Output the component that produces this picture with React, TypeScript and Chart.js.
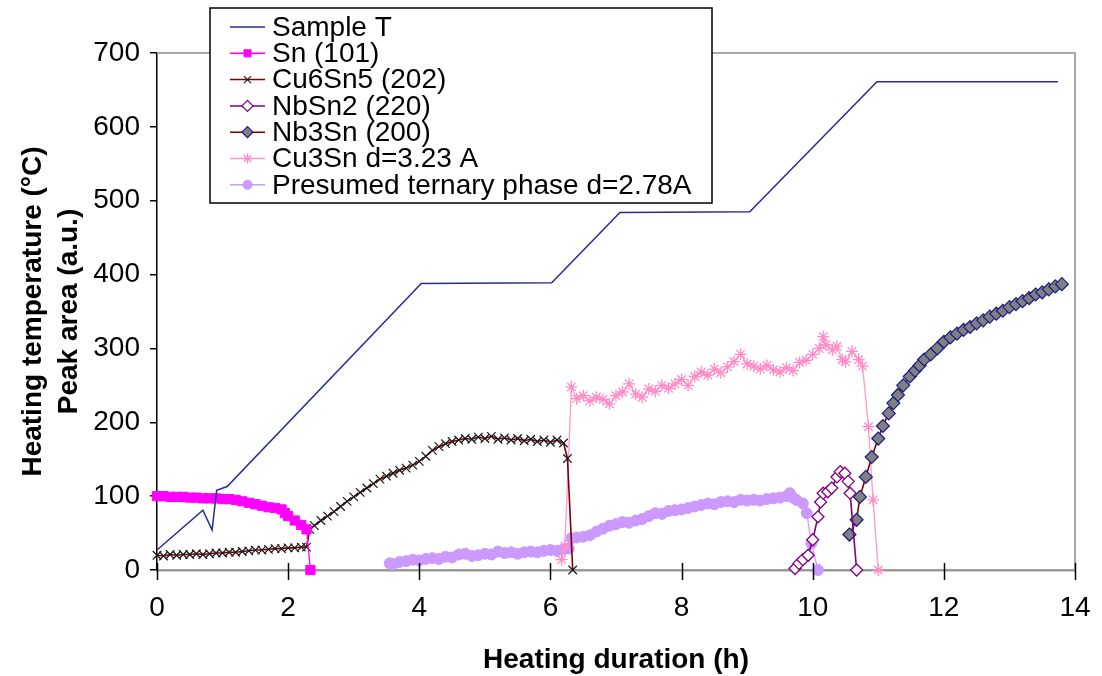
import React, { useEffect, useRef } from 'react';
import { Chart, registerables } from 'chart.js';
import { drawPoint } from 'chart.js/helpers';

Chart.register(...registerables);

// ---------- data (hours, °C / a.u.) ----------
const sampleTTime = [0, 0.7, 0.84, 0.91, 1.07, 4.03, 6.02, 7.06, 9.04, 10.98, 13.74];
const sampleTValue = [27, 81, 54, 108, 113, 388, 389, 484, 485, 661, 661];

const snTime = [0, 0.1, 0.2, 0.3, 0.4, 0.5, 0.6, 0.7, 0.8, 0.9, 1.0, 1.1, 1.2, 1.3, 1.4, 1.5, 1.6, 1.7, 1.8, 1.9, 1.95, 2.0, 2.1, 2.2, 2.28, 2.34];
const snValue = [100, 100, 99, 99, 99, 98, 98, 97, 97, 97, 96, 96, 95, 93, 91, 89, 87, 85, 84, 82, 77, 73, 67, 61, 55, 0];

const cu6sn5Time = [0, 0.1, 0.2, 0.3, 0.4, 0.5, 0.6, 0.7, 0.8, 0.9, 1.0, 1.1, 1.2, 1.3, 1.4, 1.5, 1.6, 1.7, 1.8, 1.9, 2.0, 2.1, 2.2, 2.28, 2.33,
  2.4, 2.5, 2.6, 2.7, 2.8, 2.9, 3.0, 3.1, 3.2, 3.3, 3.4, 3.5, 3.6, 3.7, 3.8, 3.9, 4.0, 4.1, 4.2, 4.3, 4.4, 4.5, 4.6, 4.7, 4.8, 4.9,
  5.0, 5.1, 5.2, 5.3, 5.4, 5.5, 5.6, 5.7, 5.8, 5.9, 6.0, 6.1, 6.2, 6.26, 6.34];
const cu6sn5Value = [20, 19, 21, 20, 21, 21, 22, 21, 22, 23, 23, 24, 24, 25, 26, 27, 27, 28, 29, 29, 30, 30, 31, 31, 55,
  60, 67, 73, 79, 86, 93, 99, 105, 111, 117, 123, 127, 131, 135, 138, 142, 147, 154, 162, 167, 171, 174, 176, 178, 177, 180,
  178, 181, 177, 179, 176, 178, 175, 177, 174, 176, 173, 176, 172, 151, 0];

const nbsn2Time = [9.73, 9.79, 9.85, 9.93, 10.0, 10.08, 10.12, 10.16, 10.23, 10.29, 10.37, 10.42, 10.49, 10.54, 10.57, 10.67];
const nbsn2Value = [2, 9, 14, 20, 41, 72, 92, 104, 106, 111, 126, 133, 131, 120, 104, 0];

const nb3snTime = [10.56, 10.67, 10.72, 10.81, 10.9, 11.0, 11.07, 11.16, 11.23, 11.3, 11.38, 11.48, 11.56, 11.63, 11.7, 11.8, 11.9,
  12.0, 12.1, 12.2, 12.3, 12.4, 12.5, 12.6, 12.7, 12.8, 12.9, 13.0, 13.1, 13.2, 13.3, 13.4, 13.5, 13.6, 13.7, 13.8];
const nb3snValue = [48, 68, 99, 126, 153, 178, 195, 212, 226, 237, 250, 262, 270, 277, 285, 292, 300,
  309, 315, 320, 325, 329, 334, 338, 343, 347, 351, 356, 360, 364, 368, 373, 376, 380, 384, 387];

const cu3snTime = [6.17, 6.22, 6.32, 6.4, 6.5, 6.6, 6.7, 6.8, 6.9, 7.0, 7.1, 7.2, 7.3, 7.4, 7.5, 7.6, 7.7, 7.8, 7.9, 8.0, 8.1, 8.2,
  8.3, 8.4, 8.5, 8.6, 8.7, 8.8, 8.9, 9.0, 9.1, 9.2, 9.3, 9.4, 9.5, 9.6, 9.7, 9.8, 9.9, 10.0, 10.1, 10.16, 10.2, 10.3, 10.37,
  10.45, 10.5, 10.6, 10.7, 10.76, 10.85, 10.92, 11.0];
const cu3snValue = [14, 32, 248, 232, 236, 229, 234, 231, 225, 236, 241, 252, 238, 234, 245, 242, 250, 246, 252, 258, 250, 262,
  268, 264, 272, 267, 275, 282, 292, 279, 276, 272, 277, 271, 268, 274, 270, 281, 284, 292, 300, 316, 305, 298, 303,
  285, 282, 296, 285, 276, 194, 95, 0];

const ternaryTime = [3.55, 3.6, 3.7, 3.8, 3.9, 4.0, 4.1, 4.2, 4.3, 4.4, 4.5, 4.6, 4.7, 4.8, 4.9, 5.0, 5.1, 5.2, 5.3, 5.4, 5.5, 5.6,
  5.7, 5.8, 5.9, 6.0, 6.1, 6.2, 6.28, 6.32, 6.4, 6.5, 6.6, 6.7, 6.8, 6.9, 7.0, 7.1, 7.2, 7.3, 7.4, 7.5, 7.6, 7.7, 7.8, 7.9,
  8.0, 8.1, 8.2, 8.3, 8.4, 8.5, 8.6, 8.7, 8.8, 8.9, 9.0, 9.1, 9.2, 9.3, 9.4, 9.5, 9.6, 9.65, 9.7, 9.75, 9.85, 9.91, 9.98, 10.08];
const ternaryValue = [9, 8, 11, 12, 14, 13, 15, 16, 15, 18, 17, 21, 22, 19, 20, 22, 21, 25, 23, 24, 22, 24,
  25, 24, 26, 27, 26, 28, 29, 43, 44, 45, 47, 52, 56, 60, 62, 65, 64, 67, 69, 73, 77, 76, 80, 81,
  82, 84, 86, 88, 90, 89, 92, 93, 92, 95, 94, 95, 94, 96, 97, 98, 100, 104, 98, 95, 90, 77, 36, 0];

const xTicks = [0, 2, 4, 6, 8, 10, 12, 14];
const yTicks = [0, 100, 200, 300, 400, 500, 600, 700];

const seriesLabels = [
  'Sample T',
  'Sn (101)',
  'Cu6Sn5 (202)',
  'NbSn2 (220)',
  'Nb3Sn (200)',
  'Cu3Sn d=3.23 A',
  'Presumed ternary phase d=2.78A',
];

const xTitle = 'Heating duration (h)';
const yTitle = ['Heating temperature (°C)', 'Peak area (a.u.)'];

const FONT = "'Liberation Sans', Arial, Helvetica, sans-serif";

function pts(t: number[], v: number[]) {
  return t.map((x, i) => ({ x, y: v[i] }));
}

const boxLegend = {
  id: 'boxLegend',
  afterDraw(chart: any) {
    const ctx = chart.ctx as CanvasRenderingContext2D;
    ctx.save();
    const bx = 210, by = 8, bw = 502, bh = 195;
    ctx.fillStyle = '#ffffff';
    ctx.fillRect(bx, by, bw, bh);
    ctx.strokeStyle = '#000000';
    ctx.lineWidth = 1.5;
    ctx.strokeRect(bx, by, bw, bh);
    ctx.font = `28px ${FONT}`;
    ctx.textBaseline = 'middle';
    ctx.textAlign = 'left';
    chart.data.datasets.forEach((ds: any, i: number) => {
      const y = 27 + i * 26.3;
      ctx.strokeStyle = ds.borderColor;
      ctx.lineWidth = 1.5;
      ctx.beginPath();
      ctx.moveTo(230, y);
      ctx.lineTo(265, y);
      ctx.stroke();
      if (ds.pointRadius > 0) {
        ctx.fillStyle = ds.pointBackgroundColor;
        ctx.strokeStyle = ds.pointBorderColor;
        ctx.lineWidth = ds.pointBorderWidth;
        drawPoint(ctx, {
          pointStyle: ds.pointStyle,
          radius: ds.legendRadius,
          borderWidth: ds.pointBorderWidth,
          rotation: 0,
        } as any, 247.5, y);
      }
      ctx.fillStyle = '#000000';
      ctx.fillText(ds.label, 272, y + 1);
    });
    ctx.restore();
  },
};

const frame = {
  id: 'frame',
  beforeDatasetsDraw(chart: any) {
    const { ctx, chartArea } = chart;
    ctx.save();
    ctx.strokeStyle = '#a8a8a8';
    ctx.lineWidth = 2;
    ctx.beginPath();
    ctx.moveTo(chartArea.left, chartArea.top);
    ctx.lineTo(chartArea.right, chartArea.top);
    ctx.lineTo(chartArea.right, chartArea.bottom);
    ctx.stroke();
    ctx.restore();
  },
  afterDatasetsDraw(chart: any) {
    const { ctx, chartArea } = chart;
    const xs = chart.scales.x;
    ctx.save();
    ctx.strokeStyle = '#000000';
    ctx.lineWidth = 1.5;
    xTicks.forEach((t) => {
      const px = Math.round(xs.getPixelForValue(t)) + 0.5;
      ctx.beginPath();
      ctx.moveTo(px, chartArea.bottom - 7);
      ctx.lineTo(px, chartArea.bottom + 10);
      ctx.stroke();
    });
    ctx.restore();
  },
};

export default function App() {
  const ref = useRef<HTMLCanvasElement>(null);

  useEffect(() => {
    if (!ref.current) return;
    const common = { tension: 0, clip: false as any, borderWidth: 1.3 };
    const chart = new Chart(ref.current, {
      type: 'line',
      data: {
        datasets: [
          {
            ...common,
            label: seriesLabels[0],
            data: pts(sampleTTime, sampleTValue),
            borderColor: '#2a2a96',
            borderWidth: 1.5,
            pointRadius: 0,
            pointStyle: 'line',
            pointBackgroundColor: '#2a2a96',
            pointBorderColor: '#2a2a96',
            pointBorderWidth: 0,
          },
          {
            ...common,
            label: seriesLabels[1],
            data: pts(snTime, snValue),
            borderColor: '#FF00FF',
            pointStyle: 'rect',
            pointRadius: 6.5,
            legendRadius: 5,
            pointBackgroundColor: '#FF00FF',
            pointBorderColor: '#FF00FF',
            pointBorderWidth: 1,
          },
          {
            ...common,
            label: seriesLabels[2],
            data: pts(cu6sn5Time, cu6sn5Value),
            borderColor: '#800000',
            borderWidth: 1.6,
            pointStyle: 'crossRot',
            pointRadius: 6,
            legendRadius: 5,
            pointBackgroundColor: '#000000',
            pointBorderColor: '#1a1a1a',
            pointBorderWidth: 1.2,
          },
          {
            ...common,
            label: seriesLabels[3],
            data: pts(nbsn2Time, nbsn2Value),
            borderColor: '#800080',
            borderWidth: 1.6,
            pointStyle: 'rectRot',
            pointRadius: 6,
            legendRadius: 5.5,
            pointBackgroundColor: '#ffffff',
            pointBorderColor: '#800080',
            pointBorderWidth: 1.3,
          },
          {
            ...common,
            label: seriesLabels[4],
            data: pts(nb3snTime, nb3snValue),
            borderColor: '#800000',
            borderWidth: 1.6,
            pointStyle: 'rectRot',
            pointRadius: 6.5,
            legendRadius: 5.5,
            pointBackgroundColor: '#808080',
            pointBorderColor: '#1a1a8a',
            pointBorderWidth: 1.2,
          },
          {
            ...common,
            label: seriesLabels[5],
            data: pts(cu3snTime, cu3snValue),
            borderColor: '#FF99CC',
            pointStyle: 'star',
            pointRadius: 6,
            legendRadius: 5,
            pointBackgroundColor: '#FF99CC',
            pointBorderColor: '#FF8CC6',
            pointBorderWidth: 1.3,
          },
          {
            ...common,
            label: seriesLabels[6],
            data: pts(ternaryTime, ternaryValue),
            borderColor: '#CC99FF',
            pointStyle: 'circle',
            pointRadius: 5.5,
            legendRadius: 4.5,
            pointBackgroundColor: '#CC99FF',
            pointBorderColor: '#CC99FF',
            pointBorderWidth: 1,
          },
        ] as any,
      },
      options: {
        animation: false,
        responsive: false,
        devicePixelRatio: 1,
        layout: { padding: { left: 0, right: 27, top: 53, bottom: 0 } },
        plugins: {
          legend: { display: false },
          tooltip: { enabled: false },
        },
        scales: {
          x: {
            type: 'linear',
            min: 0,
            max: 14,
            afterFit: (s: any) => { s.height = 106; s.paddingLeft = 0; s.paddingRight = 0; },
            afterBuildTicks: (s: any) => { s.ticks = xTicks.map((v) => ({ value: v })); },
            ticks: {
              color: '#000',
              font: { family: FONT, size: 28 },
              padding: 21,
              maxRotation: 0,
              autoSkip: false,
            },
            grid: { display: true, drawOnChartArea: false, drawTicks: false, color: '#000' },
            border: { display: true, color: '#9a9a9a', width: 2.5 },
            title: {
              display: true,
              text: xTitle,
              color: '#000',
              font: { family: FONT, size: 28, weight: 'bold', lineHeight: 1.15 },
              padding: { top: 0, bottom: 0 },
            },
          },
          y: {
            type: 'linear',
            min: 0,
            max: 700,
            afterFit: (s: any) => { s.width = 157; s.paddingTop = 0; s.paddingBottom = 0; },
            afterBuildTicks: (s: any) => { s.ticks = yTicks.map((v) => ({ value: v })); },
            ticks: {
              color: '#000',
              font: { family: FONT, size: 28 },
              padding: 10,
              autoSkip: false,
            },
            grid: { display: true, drawOnChartArea: false, drawTicks: true, tickLength: 7, color: '#000', lineWidth: 1.5 },
            border: { display: true, color: '#000', width: 1.5 },
            title: {
              display: true,
              text: yTitle,
              color: '#000',
              font: { family: FONT, size: 28, weight: 'bold', lineHeight: 1.3 },
              padding: { top: 15, bottom: 0 },
            },
          },
        },
      },
      plugins: [frame, boxLegend],
    } as any);
    return () => chart.destroy();
  }, []);

  return (
    <div style={{ position: 'fixed', left: 0, top: 0, width: 1102, height: 676, background: '#ffffff' }}>
      <canvas ref={ref} width={1102} height={676} style={{ display: 'block' }} />
    </div>
  );
}
